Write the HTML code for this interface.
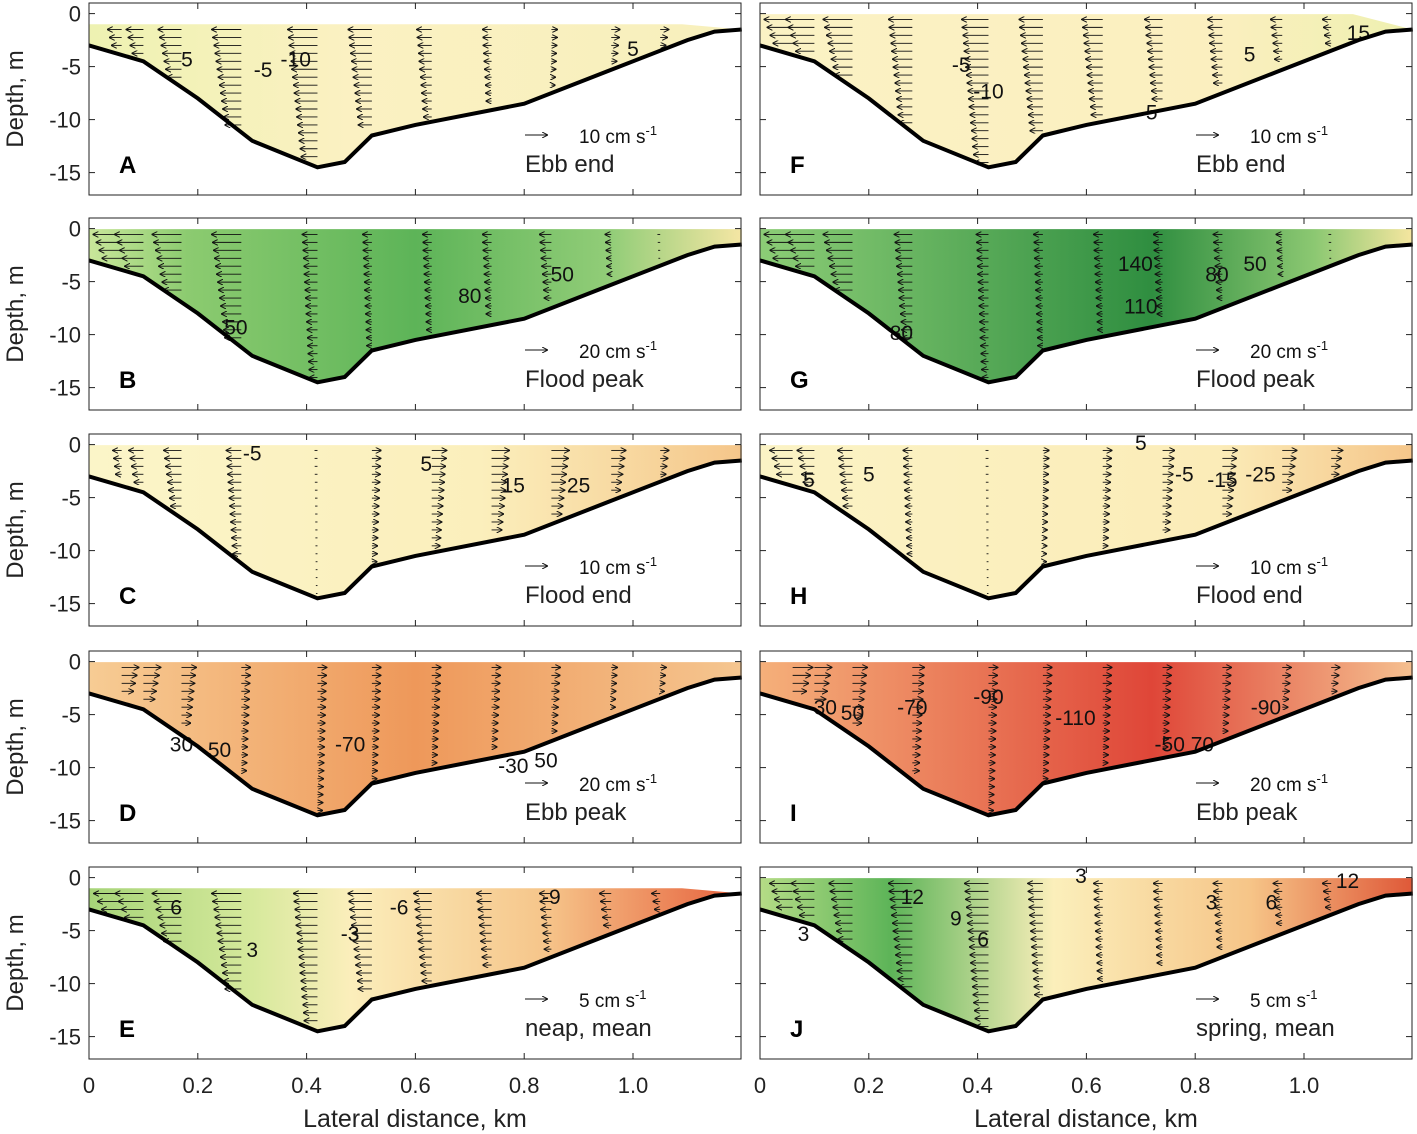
<!DOCTYPE html>
<html><head><meta charset="utf-8">
<style>
body{margin:0;background:#fff;}
svg{display:block;font-family:"Liberation Sans","DejaVu Sans",sans-serif;}
</style></head>
<body>
<svg id="chart" width="1417" height="1134" viewBox="0 0 1417 1134" xmlns="http://www.w3.org/2000/svg">
<defs id="defs"></defs>
</svg>
<script>
// Bathymetry (km, depth m)
const bathyKm = [0,0.1,0.2,0.3,0.42,0.47,0.52,0.6,0.8,0.95,1.1,1.15,1.2];
const bathyDepth = [-3,-4.5,-8,-12,-14.5,-14,-11.5,-10.5,-8.5,-5.5,-2.5,-1.7,-1.5];
const xTicks = [0,0.2,0.4,0.6,0.8,1.0];
const xTickLabels = ["0","0.2","0.4","0.6","0.8","1.0"];
const yTicks = [0,-5,-10,-15];
const yTickLabels = ["0","-5","-10","-15"];
const panelLetters = ["A","B","C","D","E","F","G","H","I","J"];
const panelPhases = ["Ebb end","Flood peak","Flood end","Ebb peak","neap, mean","Ebb end","Flood peak","Flood end","Ebb peak","spring, mean"];
const scaleLabels = ["10","20","10","20","5","10","20","10","20","5"];
const arrowCols = [0.06,0.1,0.17,0.28,0.42,0.52,0.63,0.74,0.85,0.96,1.05];
// per panel: velocity sign/magnitude per column (negative = left)
const panelU = [
 [-0.5,-0.6,-0.8,-1,-1,-0.8,-0.5,-0.3,0.2,0.3,0.3],
 [-1,-1,-1,-1,-0.5,-0.3,-0.3,-0.3,-0.4,-0.2,-0.1],
 [-0.3,-0.5,-0.6,-0.5,-0.1,0.3,0.5,0.6,0.6,0.5,0.3],
 [0.6,0.6,0.5,0.3,0.3,0.3,0.3,0.3,0.3,0.2,0.2],
 [-1,-1,-1,-1,-0.8,-0.8,-0.6,-0.5,-0.4,-0.4,-0.3],
 [-1,-1,-1,-0.8,-0.9,-0.8,-0.7,-0.6,-0.5,-0.4,-0.3],
 [-1,-1,-1,-0.6,-0.4,-0.3,-0.3,-0.3,-0.3,-0.2,-0.1],
 [-0.8,-0.6,-0.5,-0.3,-0.1,0.2,0.3,0.4,0.5,0.5,0.4],
 [0.7,0.6,0.5,0.4,0.3,0.3,0.3,0.3,0.3,0.3,0.3],
 [-0.8,-0.8,-0.8,-0.8,-0.8,-0.5,-0.3,-0.3,-0.3,-0.3,-0.3]
];
const gradStops = [
 [["0","#eef2b2"],["0.4","#fbf1c2"],["1","#f7f0bc"]],
 [["0","#c9e79a"],["0.15","#8ccb70"],["0.5","#5db458"],["0.8","#92cd78"],["1","#f5e6a4"]],
 [["0","#fbf5c8"],["0.6","#fbefbc"],["1","#f5c68a"]],
 [["0","#f7cc94"],["0.5","#ee985a"],["1","#f5c690"]],
 [["0","#a6d478"],["0.25","#d6e99c"],["0.4","#fbeebb"],["0.7","#f6c58a"],["1","#e6603c"]],
 [["0","#fbf2c4"],["0.7","#fbefbf"],["1","#eef0b0"]],
 [["0","#8ccd76"],["0.6","#2f8e40"],["0.85","#8cc872"],["1","#f6e6a0"]],
 [["0","#fbf3c5"],["0.7","#fbecb8"],["1","#f5c68a"]],
 [["0","#f5b07a"],["0.6","#df4638"],["1","#f5c090"]],
 [["0","#b5dc86"],["0.2","#5db458"],["0.45","#fbefbb"],["0.75","#f6c588"],["1","#df5838"]]
];
const contourLabels = [
 [[0.18,-5,"5"],[0.32,-6,"-5"],[0.38,-5,"-10"],[1.0,-4,"5"]],
 [[0.27,-10,"50"],[0.7,-7,"80"],[0.87,-5,"50"]],
 [[0.3,-1.5,"-5"],[0.62,-2.5,"5"],[0.78,-4.5,"15"],[0.9,-4.5,"25"]],
 [[0.17,-8.5,"30"],[0.24,-9,"50"],[0.48,-8.5,"-70"],[0.78,-10.5,"-30"],[0.84,-10,"50"]],
 [[0.16,-3.5,"6"],[0.3,-7.5,"3"],[0.48,-6,"-3"],[0.57,-3.5,"-6"],[0.85,-2.5,"-9"]],
 [[0.37,-5.5,"-5"],[0.42,-8,"-10"],[0.72,-10,"5"],[0.9,-4.5,"5"],[1.1,-2.5,"15"]],
 [[0.26,-10.5,"80"],[0.69,-4,"140"],[0.7,-8,"110"],[0.84,-5,"80"],[0.91,-4,"50"]],
 [[0.09,-4,"5"],[0.2,-3.5,"5"],[0.7,-0.5,"5"],[0.78,-3.5,"-5"],[0.85,-4,"-15"],[0.92,-3.5,"-25"]],
 [[0.12,-5,"30"],[0.17,-5.5,"50"],[0.28,-5,"-70"],[0.42,-4,"-90"],[0.58,-6,"-110"],[0.78,-8.5,"-50 70"],[0.93,-5,"-90"]],
 [[0.08,-6,"3"],[0.28,-2.5,"12"],[0.36,-4.5,"9"],[0.41,-6.5,"6"],[0.59,-0.5,"3"],[0.83,-3,"3"],[0.94,-3,"6"],[1.08,-1,"12"]]
];

const NS='http://www.w3.org/2000/svg';
const svg=document.getElementById('chart');
const defs=document.getElementById('defs');
function mk(tag,attrs,parent){const e=document.createElementNS(NS,tag);for(const k in attrs)e.setAttribute(k,attrs[k]);(parent||svg).appendChild(e);return e;}
// arrowhead marker
const mkr=mk('marker',{id:'ah',markerWidth:'6',markerHeight:'6',refX:'5',refY:'3',orient:'auto',markerUnits:'userSpaceOnUse'},defs);
mk('path',{d:'M0,0 L6,3 L0,6',fill:'none',stroke:'#111','stroke-width':'1'},mkr);

const W=652,H=192,PXKM=544,PXM=10.6;
const colX=[89,760], rowY=[3,218,434,651,867];
function depthAt(km){for(let i=0;i<bathyKm.length-1;i++){if(km>=bathyKm[i]&&km<=bathyKm[i+1]){const t=(km-bathyKm[i])/(bathyKm[i+1]-bathyKm[i]);return bathyDepth[i]+t*(bathyDepth[i+1]-bathyDepth[i]);}}return bathyDepth[bathyDepth.length-1];}

for(let p=0;p<10;p++){
 const col=p<5?0:1,row=p%5;
 const x0=colX[col],y0=rowY[row];
 const xs=km=>x0+km*PXKM;
 const ys=d=>y0+(1-d)*PXM;
 const g=mk('g',{});
 
 
 mk('rect',{x:x0,y:y0,width:W,height:H,fill:'#fff'},g);
 // gradient
 const lg=mk('linearGradient',{id:'gr'+p,x1:'0',x2:'1',y1:'0',y2:'0'},defs);
 gradStops[p].forEach(s=>mk('stop',{offset:s[0],'stop-color':s[1]},lg));
 const surf=(p===0||p===4)?-1:-0.05;
 const endKm=(p===0||p===4||p===5)?1.09:1.2;
 let pts=[];
 pts.push(xs(0)+','+ys(surf));pts.push(xs(endKm)+','+ys(surf));
 for(let i=bathyKm.length-1;i>=0;i--){if(bathyKm[i]<=endKm+0.12)pts.push(xs(Math.min(bathyKm[i],1.2))+','+ys(bathyDepth[i]));}
 const fill=mk('polygon',{points:pts.join(' '),fill:'url(#gr'+p+')'},g);
 
 
 // arrows
 const ag=mk('g',{},g);
 
 
 arrowCols.forEach((km,ci)=>{
  const u=panelU[p][ci];const bot=depthAt(km);
  for(let d=surf-0.5;d>bot+0.4;d-=0.75){
   const len=u*30*(0.5+0.5*(d-bot)/(surf-bot));
   const xa=xs(km), ya=ys(d);
   mk('line',{x1:xa,y1:ya,x2:xa+len,y2:ya,stroke:'#111','stroke-width':'0.9','marker-end':Math.abs(len)>3?'url(#ah)':''},ag);
  }
 });
 // contour labels
 contourLabels[p].forEach(c=>{
  const t=mk('text',{x:xs(c[0]),y:ys(c[1]),'font-size':'21',fill:'#111','text-anchor':'middle'},g);
  t.textContent=c[2];
  
  
 });
 // bathymetry line
 const bl=mk('polyline',{points:bathyKm.map((k,i)=>xs(k)+','+ys(bathyDepth[i])).join(' '),fill:'none',stroke:'#000','stroke-width':'4'},g);
 
 
 // frame
 mk('rect',{x:x0,y:y0,width:W,height:H,fill:'none',stroke:'#222','stroke-width':'1'},g);
 // ticks
 yTicks.forEach((v,i)=>{
  mk('line',{x1:x0,y1:ys(v),x2:x0+6,y2:ys(v),stroke:'#222'},g);
  mk('line',{x1:x0+W,y1:ys(v),x2:x0+W-6,y2:ys(v),stroke:'#222'},g);
  if(col===0){const t=mk('text',{x:x0-8,y:ys(v)+8,'font-size':'22','text-anchor':'end',fill:'#222'},g);t.textContent=yTickLabels[i];
   }
 });
 xTicks.forEach(v=>{mk('line',{x1:xs(v),y1:y0+H,x2:xs(v),y2:y0+H-6,stroke:'#222'},g);mk('line',{x1:xs(v),y1:y0,x2:xs(v),y2:y0+6,stroke:'#222'},g);});
 if(col===0){const t=mk('text',{x:0,y:0,'font-size':'24','text-anchor':'middle',fill:'#222',transform:'translate(23,'+(y0+96)+') rotate(-90)'},g);t.textContent='Depth, m';
  }
 // letter
 const lt=mk('text',{x:x0+30,y:y0+170,'font-size':'24','font-weight':'bold',fill:'#000'},g);lt.textContent=panelLetters[p];
 
 // scale arrow
 mk('line',{x1:x0+436,y1:y0+132,x2:x0+458,y2:y0+132,stroke:'#111','stroke-width':'1','marker-end':'url(#ah)'},g);
 const st=mk('text',{x:x0+490,y:y0+140,'font-size':'19',fill:'#111'},g);
 st.innerHTML=scaleLabels[p]+' cm s<tspan dy="-8" font-size="13">-1</tspan>';
 
 const ph=mk('text',{x:x0+436,y:y0+169,'font-size':'24',fill:'#222'},g);ph.textContent=panelPhases[p];
 
 if(row===4){
  xTicks.forEach((v,i)=>{const t=mk('text',{x:xs(v),y:1093,'font-size':'22','text-anchor':'middle',fill:'#222'},g);t.textContent=xTickLabels[i];
   });
  const xt=mk('text',{x:x0+326,y:1127,'font-size':'25','text-anchor':'middle',fill:'#222'},g);xt.textContent='Lateral distance, km';
  
 }
}
</script>
</body></html>
